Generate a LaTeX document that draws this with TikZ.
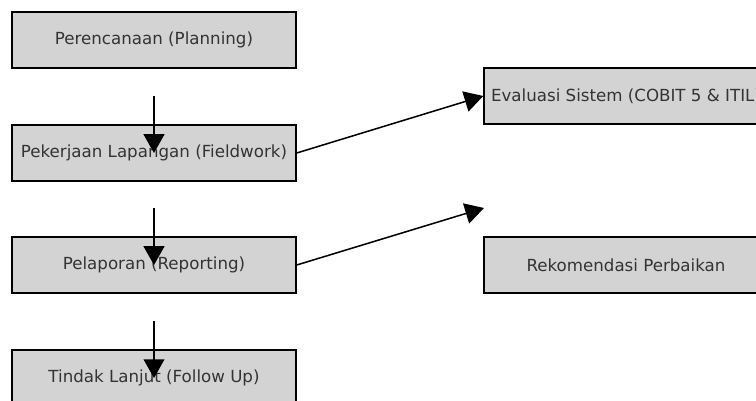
\documentclass[tikz,border=0pt]{standalone}
\usepackage{fontspec}
\setmainfont{DejaVu Sans}
\usetikzlibrary{arrows.meta}
\definecolor{boxgray}{HTML}{D3D3D3}
\definecolor{textgray}{HTML}{333333}
\tikzstyle{stage}=[rectangle,draw=black,fill=boxgray,line width=1pt,minimum width=204.5pt,minimum height=40.3pt,inner sep=0pt,text=textgray,font=\fontsize{12}{14}\selectfont]
\tikzstyle{flow}=[line width=1.1pt,-{Triangle[width=15pt,length=13.5pt]}]

\begin{document}
\begin{tikzpicture}[x=0.72pt,y=-0.72pt]
			\clip (0,0) rectangle (756,401);
			\node (plan) at (154,40) [stage] {Perencanaan (Planning)};
			\node (work) at (154,153) [stage] {Pekerjaan Lapangan (Fieldwork)};
			\node (report) at (154,265) [stage] {Pelaporan (Reporting)};
			\node (follow) at (154,378) [stage] {Tindak Lanjut (Follow Up)};
			\node (eval) at (626,96) [stage] {Evaluasi Sistem (COBIT 5 \& ITIL)};
			\node (recom) at (626,265) [stage] {Rekomendasi Perbaikan};
			\coordinate (a1) at (154,96);
			\coordinate (a2) at (154,208);
			\coordinate (a3) at (154,321);
			\coordinate (a4) at (484,208);
			\draw [flow] (a1) -- (work.center);
			\draw [flow] (a2) -- (report.center);
			\draw [flow] (a3) -- (follow.center);
			\draw [flow] (work.east) -- (eval.west);
			\draw [flow] (report.east) -- (a4);
		\end{tikzpicture}
\end{document}
